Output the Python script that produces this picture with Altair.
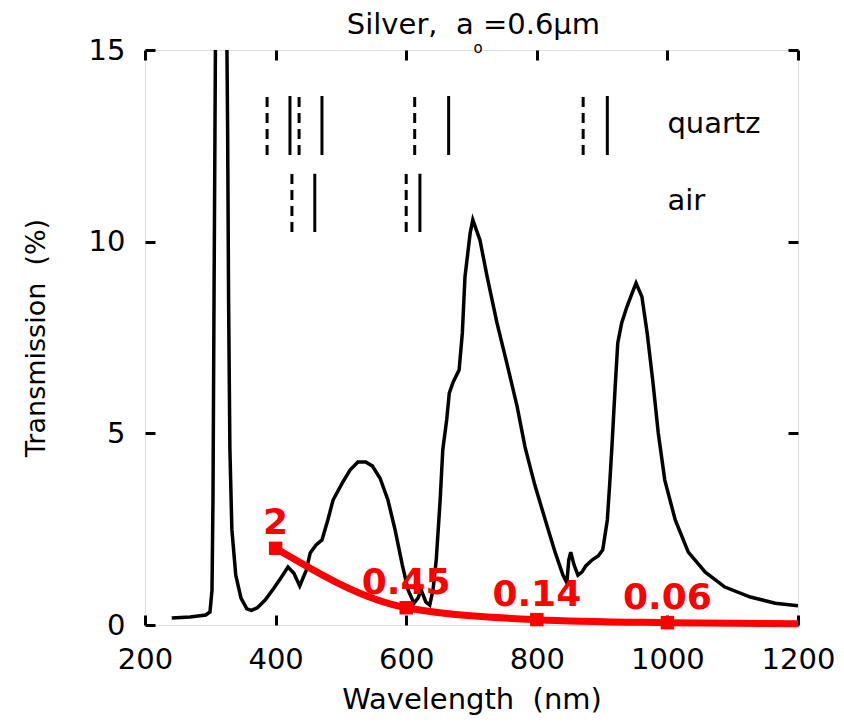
import altair as alt
import pandas as pd

# Transmission spectrum of the silver film (wavelength in nm, transmission in %)
SPEC_WL = [241, 269, 293, 299.5, 302.6, 304.1, 305.7, 308, 312, 316, 321, 325, 326.5,
           328, 330, 333, 339, 347, 356, 363, 372, 384, 397, 407, 419, 428, 437,
           447, 453, 462, 471, 480, 488, 502, 514, 526, 538, 548, 560, 572, 583,
           594, 603, 612, 618, 623, 630, 636, 641, 646, 652, 656, 662, 666, 672,
           681, 686, 690, 698, 702, 713, 724, 739, 754, 770, 782, 797, 813, 828,
           840, 846, 849, 852, 857, 863, 869, 875, 885, 894, 901, 908, 912, 915,
           920, 924, 930, 938, 946, 952, 961, 969, 978, 986, 996, 1012, 1032,
           1058, 1088, 1127, 1165, 1200]
SPEC_TR = [0.18, 0.21, 0.26, 0.34, 0.91, 3.26, 8.5, 15.5, 22, 25, 22, 16, 13,
           8.5, 4.6, 2.5, 1.3, 0.7, 0.42, 0.38, 0.45, 0.65, 0.95, 1.2, 1.51, 1.35, 1.02,
           1.43, 1.88, 2.09, 2.22, 2.74, 3.26, 3.7, 4.04, 4.25, 4.25, 4.15, 3.83, 3.26, 2.48,
           1.57, 0.91, 0.57, 0.7, 0.91, 0.6, 0.52, 0.91, 1.7, 3.26, 4.57, 5.35, 6.05, 6.34,
           6.65, 7.62, 9.08, 10.23, 10.57, 10.04, 9.08, 7.88, 6.84, 5.69, 4.64, 3.65, 2.74, 1.9,
           1.3, 1.1, 1.7, 1.9, 1.57, 1.3, 1.38, 1.54, 1.7, 1.8, 1.96, 2.74, 3.78, 4.64,
           6.21, 7.36, 7.88, 8.3, 8.66, 8.92, 8.56, 7.62, 6.31, 5.01, 3.78, 2.74, 1.9,
           1.38, 0.99, 0.73, 0.57, 0.5]

# Highlighted values (red curve)
RED_WL = [400, 600, 800, 1000]
RED_VAL = [2, 0.45, 0.14, 0.06]
RED_TAIL_WL = [1200]
RED_TAIL_VAL = [0.03]

# Resonance markers: wavelength (nm), medium, line style
MARK_WL = [387, 422, 436, 471, 613, 665, 871, 908, 425, 460, 600, 621]
MARK_ROW = ["quartz"] * 8 + ["air"] * 4
MARK_KIND = ["dashed", "solid", "dashed", "solid", "dashed", "solid", "dashed", "solid",
             "dashed", "solid", "dashed", "solid"]
ROW_NAMES = ["quartz", "air"]
ROW_LO = [12.26, 10.25]
ROW_HI = [13.8, 11.77]
ROW_LABEL_WL = [1000, 1000]
ROW_LABEL_Y = [12.84, 10.83]

NBSP = "\u00a0"
# Title, with the subscript "o" of a_o set as its own small text
TITLE_TEXT = [f"Silver,{NBSP}{NBSP}a{NBSP}=0.6µm"]
TITLE_POS = [(703, 15.43)]
SUB_TEXT = ["o"]
SUB_POS = [(710, 15.05)]

X_TITLE = f"Wavelength{NBSP}{NBSP}(nm)"
Y_TITLE = f"Transmission{NBSP}{NBSP}(%)"

X_TICKS = [200, 400, 600, 800, 1000, 1200]
Y_TICKS = [0, 5, 10, 15]

FONT = "DejaVu Sans"

spec_df = pd.DataFrame({"wl": SPEC_WL, "tr": SPEC_TR})
red_line_df = pd.DataFrame({"wl": RED_WL + RED_TAIL_WL, "tr": RED_VAL + RED_TAIL_VAL})
red_pts_df = pd.DataFrame({"wl": RED_WL, "tr": RED_VAL,
                           "lbl": [f"{v:g}" for v in RED_VAL]})
lo = dict(zip(ROW_NAMES, ROW_LO))
hi = dict(zip(ROW_NAMES, ROW_HI))
marks_df = pd.DataFrame({"wl": MARK_WL, "row": MARK_ROW, "kind": MARK_KIND,
                         "lo": [lo[r] for r in MARK_ROW], "hi": [hi[r] for r in MARK_ROW]})
rows_df = pd.DataFrame({"wl": ROW_LABEL_WL, "y": ROW_LABEL_Y, "name": ROW_NAMES})
title_df = pd.DataFrame({"wl": [p[0] for p in TITLE_POS], "y": [p[1] for p in TITLE_POS],
                         "t": TITLE_TEXT})
sub_df = pd.DataFrame({"wl": [p[0] for p in SUB_POS], "y": [p[1] for p in SUB_POS],
                       "t": SUB_TEXT})

xs = alt.Scale(domain=[200, 1200], nice=False, zero=False)
ys = alt.Scale(domain=[0, 15], nice=False, zero=False)

x_bottom = alt.Axis(orient="bottom", values=X_TICKS, format="d", offset=-10,
                    tickSize=10, tickWidth=3, tickColor="black", domain=False, grid=False,
                    labelFont=FONT, labelFontSize=29, labelColor="black", labelPadding=20,
                    labelOverlap=False, labelFlush=False, labelBound=False,
                    titleFont=FONT, titleFontSize=29, titleFontWeight="normal",
                    titleColor="black", titlePadding=11)
y_left = alt.Axis(orient="left", values=Y_TICKS, format="d", offset=-10,
                  tickSize=10, tickWidth=3, tickColor="black", domain=False, grid=False,
                  labelFont=FONT, labelFontSize=29, labelColor="black", labelPadding=20,
                  labelOverlap=False, labelFlush=False, labelBound=False,
                  titleFont=FONT, titleFontSize=27, titleFontWeight="normal",
                  titleColor="black", titlePadding=38)
x_top = alt.Axis(orient="top", values=X_TICKS, offset=-10, tickSize=10, tickWidth=3,
                 tickColor="black", domain=False, grid=False, labels=False, title=None)
y_right = alt.Axis(orient="right", values=Y_TICKS, offset=-10, tickSize=10, tickWidth=3,
                   tickColor="black", domain=False, grid=False, labels=False, title=None)

spectrum = alt.Chart(spec_df).mark_line(color="black", strokeWidth=3.5, clip=True).encode(
    x=alt.X("wl:Q", scale=xs, axis=x_bottom, title=X_TITLE),
    y=alt.Y("tr:Q", scale=ys, axis=y_left, title=Y_TITLE),
)

red_line = alt.Chart(red_line_df).mark_line(
    color="#ff0000", strokeWidth=7, interpolate="monotone").encode(
    x=alt.X("wl:Q", scale=xs, axis=x_top),
    y=alt.Y("tr:Q", scale=ys, axis=y_right),
)

red_pts = alt.Chart(red_pts_df).mark_square(size=180, color="#ff0000", opacity=1).encode(
    x=alt.X("wl:Q", scale=xs, axis=None),
    y=alt.Y("tr:Q", scale=ys, axis=None),
)

red_lbl = alt.Chart(red_pts_df).mark_text(
    font=FONT, fontWeight="bold", fontSize=36, color="#ff0000",
    align="center", baseline="alphabetic", dy=-14).encode(
    x=alt.X("wl:Q", scale=xs, axis=None),
    y=alt.Y("tr:Q", scale=ys, axis=None),
    text="lbl:N",
)

markers = alt.Chart(marks_df).mark_rule(color="black", strokeWidth=3).encode(
    x=alt.X("wl:Q", scale=xs, axis=None),
    y=alt.Y("lo:Q", scale=ys, axis=None),
    y2="hi:Q",
    strokeDash=alt.StrokeDash("kind:N", legend=None,
                              scale=alt.Scale(domain=["dashed", "solid"],
                                              range=[[10, 6], [1, 0]])),
)

row_text = alt.Chart(rows_df).mark_text(
    font=FONT, fontSize=29, color="black", align="left", baseline="alphabetic").encode(
    x=alt.X("wl:Q", scale=xs, axis=None),
    y=alt.Y("y:Q", scale=ys, axis=None),
    text="name:N",
)

title = alt.Chart(title_df).mark_text(
    font=FONT, fontSize=29, color="black", align="center", baseline="alphabetic").encode(
    x=alt.X("wl:Q", scale=xs, axis=None),
    y=alt.Y("y:Q", scale=ys, axis=None),
    text="t:N",
)

subscript = alt.Chart(sub_df).mark_text(
    font=FONT, fontSize=15, color="black", align="center", baseline="middle").encode(
    x=alt.X("wl:Q", scale=xs, axis=None),
    y=alt.Y("y:Q", scale=ys, axis=None),
    text="t:N",
)

chart = alt.layer(
    spectrum, red_line, markers, row_text, red_pts, red_lbl, title, subscript
).resolve_axis(x="independent", y="independent").properties(
    width=653, height=575,
    padding={"left": 145, "top": 50, "right": 46, "bottom": 99},
    autosize=alt.AutoSizeParams(type="none"),
).configure_view(stroke="black", strokeWidth=3).configure(background="white")

chart.save("out.html", embed_options={"renderer": "svg", "actions": False})
